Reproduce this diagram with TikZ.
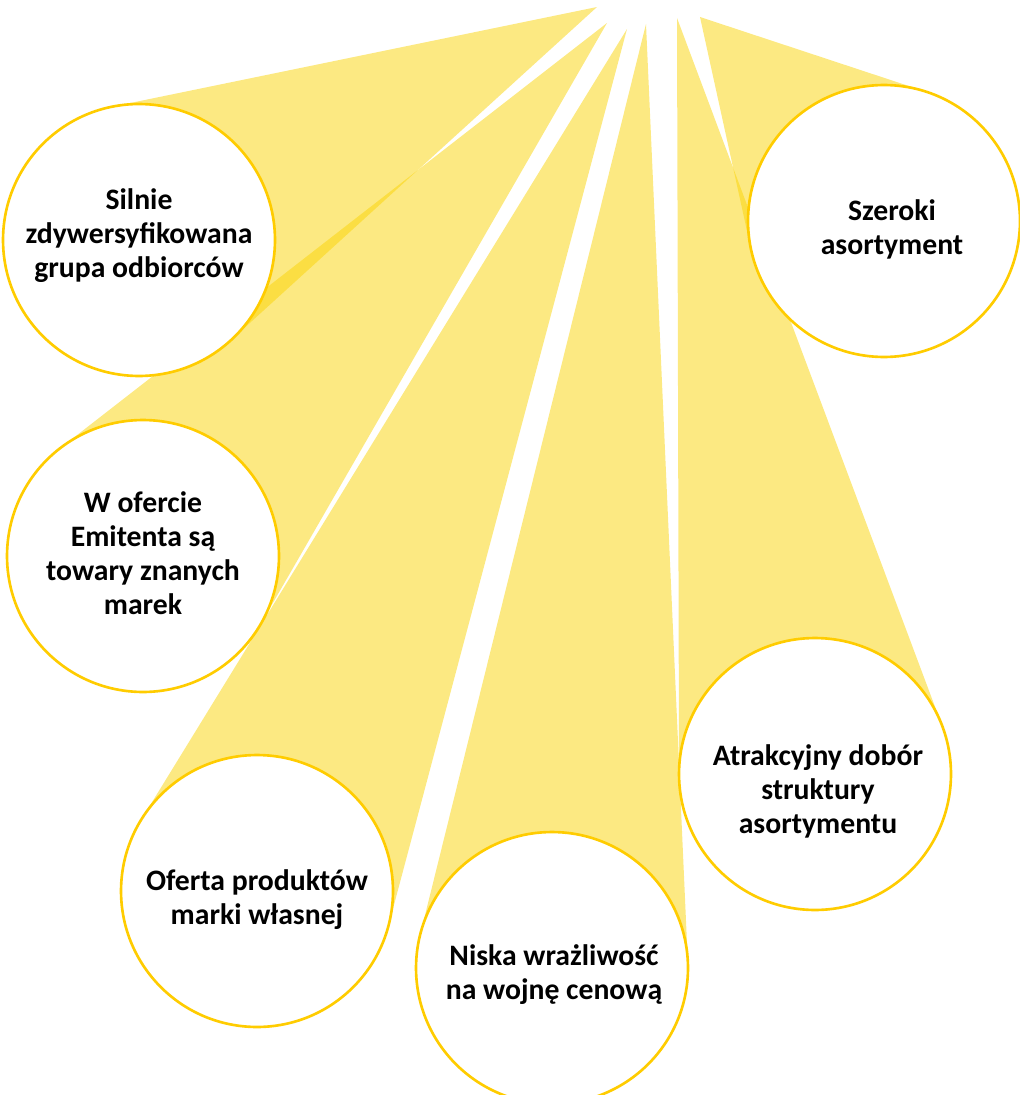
\documentclass[tikz,border=0pt]{standalone}
\usepackage{fontspec}
\setmainfont{Carlito}
\usepackage{tikz}
\usetikzlibrary{calc,backgrounds}
\definecolor{sun}{RGB}{250,211,5}
\definecolor{ring}{RGB}{255,204,0}

\begin{document}
\begin{tikzpicture}[
  x=0.02cm, y=-0.02cm,
  bubble/.style={draw=ring, fill=white, circle, line width=1.5pt, minimum size=5.44cm, inner sep=0pt, outer sep=0pt},
  lbl/.style={align=center, font=\fontsize{16.9}{19.3}\selectfont\bfseries, inner sep=0pt},
  ray/.style={fill=sun, fill opacity=0.5, draw=none}
]
\useasboundingbox (0,0) rectangle (1019,1095);
\node[bubble] (silnie) at (139,240) {};
\node[bubble] (szeroki) at (884,221) {};
\node[bubble] (ofercie) at (143,556) {};
\node[bubble] (marka) at (257,891) {};
\node[bubble] (niska) at (552,968) {};
\node[bubble] (dobor) at (815,774) {};
\node[lbl] (silnie-t) at ($(silnie)+(0,-4)$) {Silnie\\zdywersyfikowana\\grupa odbiorców};
\node[lbl] (szeroki-t) at ($(szeroki)+(8,8)$) {Szeroki\\asortyment};
\node[lbl] (ofercie-t) at ($(ofercie)+(0,-3)$) {W ofercie\\Emitenta są\\towary znanych\\marek};
\node[lbl] (marka-t) at ($(marka)+(0,9)$) {Oferta produktów\\marki własnej};
\node[lbl] (niska-t) at ($(niska)+(2,7)$) {Niska wrażliwość\\na wojnę cenową};
\node[lbl] (dobor-t) at ($(dobor)+(3,17)$) {Atrakcyjny dobór\\struktury\\asortymentu};
\coordinate (r1) at (597,7);
\coordinate (r2) at (607,23);
\coordinate (r3) at (627,29);
\coordinate (r4) at (646,24);
\coordinate (r5) at (677,18);
\coordinate (r6) at (700,17);
\begin{scope}[on background layer]
\fill[ray] (r1) -- (tangent cs:node=silnie,point={(r1)},solution=1) -- (silnie.center) -- (tangent cs:node=silnie,point={(r1)},solution=2) -- cycle;
\fill[ray] (r2) -- (tangent cs:node=ofercie,point={(r2)},solution=1) -- (ofercie.center) -- (tangent cs:node=ofercie,point={(r2)},solution=2) -- cycle;
\fill[ray] (r3) -- (tangent cs:node=marka,point={(r3)},solution=1) -- (marka.center) -- (tangent cs:node=marka,point={(r3)},solution=2) -- cycle;
\fill[ray] (r4) -- (tangent cs:node=niska,point={(r4)},solution=1) -- (niska.center) -- (tangent cs:node=niska,point={(r4)},solution=2) -- cycle;
\fill[ray] (r5) -- (tangent cs:node=dobor,point={(r5)},solution=1) -- (dobor.center) -- (tangent cs:node=dobor,point={(r5)},solution=2) -- cycle;
\fill[ray] (r6) -- (tangent cs:node=szeroki,point={(r6)},solution=1) -- (szeroki.center) -- (tangent cs:node=szeroki,point={(r6)},solution=2) -- cycle;
\end{scope}
\end{tikzpicture}
\end{document}
